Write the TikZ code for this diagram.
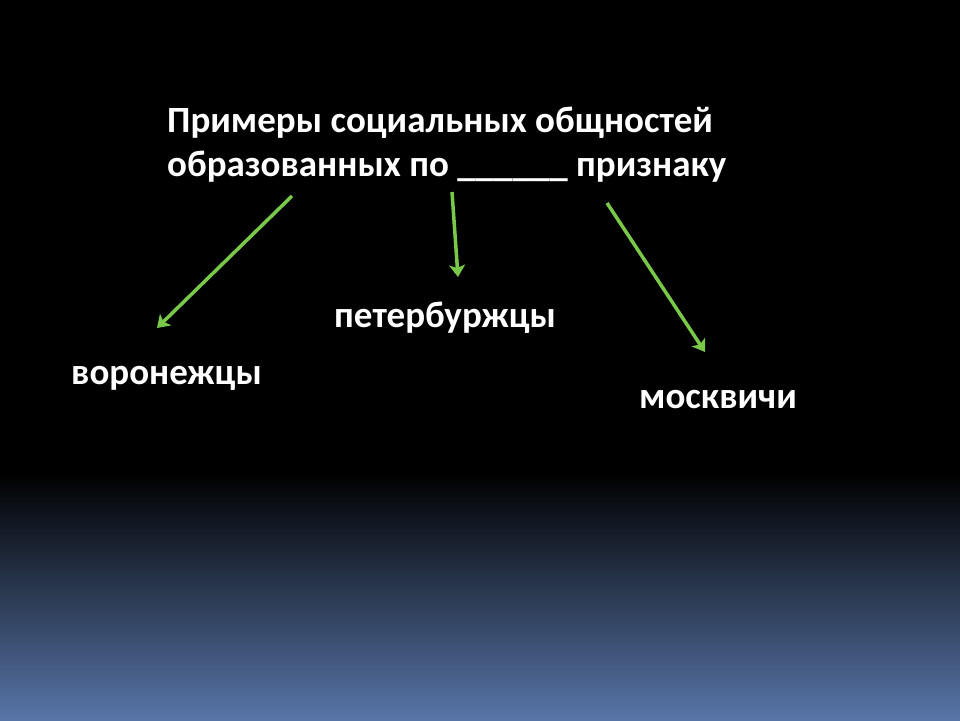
\documentclass[tikz,border=0pt]{standalone}
\usepackage{fontspec}
\setmainfont{Carlito}
\usepackage{xcolor}
\usepackage{tikz}
\usetikzlibrary{calc}
\usetikzlibrary{arrows.meta}

\definecolor{arrowgreen}{RGB}{122,200,72}
\definecolor{bottomblue}{RGB}{88,117,168}

\begin{document}
\begin{tikzpicture}[x=1pt,y=-1pt]
    \tikzstyle{label text}=[text=white,font=\fontsize{37}{44}\selectfont\bfseries,inner sep=0pt,anchor=west]
    \tikzstyle{pointer}=[-{Stealth[length=12pt,width=16pt,inset=3pt]},line width=3.5pt,color=arrowgreen]

    % Background
    \fill[black] (0,0) rectangle (960,720);
    \shade[top color=black,bottom color=bottomblue] (0,472) rectangle (960,720);
    \useasboundingbox (0,0) rectangle (960,720);

    % Texts
    \node[style=label text,align=left] (title) at (167,145) {Примеры социальных общностей\\образованных по \_\_\_\_\_\_ признаку};
    \node[style=label text] (vor) at (71,378) {воронежцы};
    \node[style=label text] (pet) at (334,318) {петербуржцы};
    \node[style=label text] (mosk) at (639,400) {москвичи};

	\coordinate (a_1) at (292,196);
	\coordinate (b_1) at (157,328);

	\coordinate (a_2) at (452,192);
	\coordinate (b_2) at (458,277);

	\coordinate (a_3) at (607,203);
	\coordinate (b_3) at (705,352);

    % Arrows
	\draw[style=pointer] (a_1) -- (b_1);
	\draw[style=pointer] (a_2) -- (b_2);
	\draw[style=pointer] (a_3) -- (b_3);

\end{tikzpicture}
\end{document}
